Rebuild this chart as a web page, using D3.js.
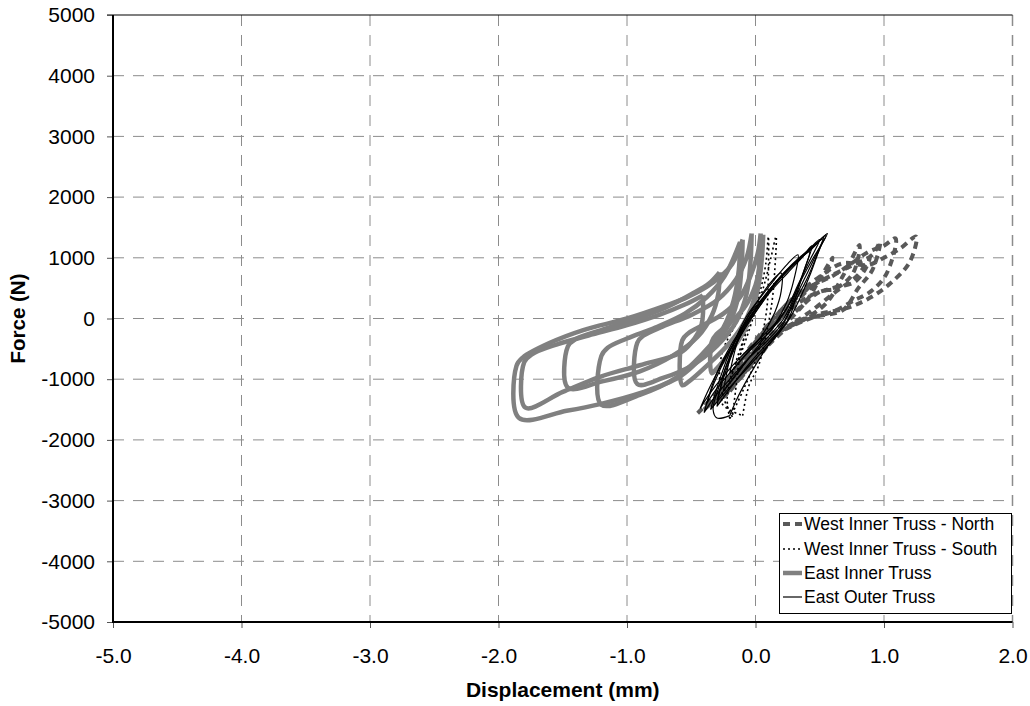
<!DOCTYPE html>
<html>
<head>
<meta charset="utf-8">
<script src="https://cdn.jsdelivr.net/npm/d3@7"></script>
<style>
  html, body { margin: 0; padding: 0; background: #fff; }
  svg { display: block; }
  text { font-family: Arial, "Liberation Sans", sans-serif; }
</style>
</head>
<body>
<svg id="chart" width="1030" height="706"></svg>
<script>
// ---------- data ----------
const xTicks = [-5.0, -4.0, -3.0, -2.0, -1.0, 0.0, 1.0, 2.0];
const yTicks = [-5000, -4000, -3000, -2000, -1000, 0, 1000, 2000, 3000, 4000, 5000];
const seriesNames = ["West Inner Truss - North", "West Inner Truss - South", "East Inner Truss", "East Outer Truss"];

// West Inner Truss - North (loops, [displacement mm, force N])
const westNorth = [
  [[-0.45,-1560],[-0.3,-1250],[-0.12,-800],[0.08,-380],[0.25,-50],[0.4,300],[0.5,650],[0.6,1000],[0.55,750],[0.45,550],[0.3,250],[0.15,-100],[-0.05,-550],[-0.25,-1100],[-0.45,-1560]],
  [[-0.4,-1500],[-0.2,-1100],[0.0,-600],[0.17,-240],[0.37,-25],[0.55,250],[0.68,700],[0.81,1210],[0.76,750],[0.63,500],[0.5,440],[0.33,150],[0.15,-200],[-0.05,-650],[-0.2,-1050],[-0.4,-1500]],
  [[-0.35,-1450],[-0.15,-1000],[0.09,-350],[0.27,-140],[0.45,20],[0.68,140],[0.8,500],[0.91,800],[0.97,1260],[0.91,1050],[0.79,910],[0.63,750],[0.45,550],[0.25,250],[0.05,-250],[-0.15,-800],[-0.35,-1450]],
  [[-0.3,-1400],[-0.05,-800],[0.17,-240],[0.37,-25],[0.6,110],[0.77,300],[0.9,450],[1.02,740],[1.09,1320],[1.0,1200],[0.88,1100],[0.73,880],[0.6,700],[0.45,550],[0.25,200],[0.05,-300],[-0.15,-850],[-0.3,-1400]],
  [[-0.25,-1300],[0.0,-700],[0.2,-200],[0.45,50],[0.71,170],[0.89,340],[1.05,580],[1.2,930],[1.25,1350],[1.13,1160],[1.0,1000],[0.87,880],[0.68,910],[0.5,690],[0.3,350],[0.1,-100],[-0.1,-650],[-0.25,-1300]],
  [[-0.2,-1200],[0.05,-550],[0.25,-150],[0.45,150],[0.63,450],[0.79,700],[0.89,1000],[0.85,800],[0.77,600],[0.6,500],[0.45,400],[0.3,200],[0.1,-200],[-0.2,-1200]]
];

// West Inner Truss - South
const westSouth = [
  [[-0.2,-1650],[-0.1,-1200],[0.0,-700],[0.05,-300],[0.09,200],[0.1,700],[0.1,1350],[0.08,900],[0.03,400],[-0.05,-100],[-0.15,-700],[-0.22,-1300],[-0.2,-1650]],
  [[-0.1,-1600],[-0.05,-1100],[0.02,-800],[0.08,-300],[0.13,300],[0.15,800],[0.16,1350],[0.12,1000],[0.06,500],[-0.02,0],[-0.1,-500],[-0.2,-1000],[-0.26,-1400],[-0.1,-1600]],
  [[-0.18,-1620],[-0.25,-1300],[-0.28,-900],[-0.25,-500],[-0.18,-200],[-0.1,100],[-0.02,400],[0.0,300],[-0.06,-100],[-0.12,-600],[-0.15,-1100],[-0.18,-1620]]
];

// East Inner Truss
const eastInner = [
  [[0.06,1380],[0.05,1000],[0.02,500],[-0.03,100],[-0.1,-250],[-0.2,-560],[-0.3,-820],[-0.34,-900],[-0.34,-380],[-0.3,-250],[-0.2,-80],[-0.08,200],[0.0,550],[0.04,950],[0.06,1380]],
  [[0.04,1400],[0.03,900],[0.0,400],[-0.07,0],[-0.2,-400],[-0.38,-780],[-0.52,-1040],[-0.57,-1100],[-0.57,-360],[-0.52,-240],[-0.4,-100],[-0.25,80],[-0.12,350],[-0.03,750],[0.02,1100],[0.04,1400]],
  [[-0.03,1400],[-0.04,900],[-0.07,400],[-0.15,-50],[-0.3,-450],[-0.5,-780],[-0.72,-980],[-0.92,-1080],[-0.92,-400],[-0.87,-280],[-0.72,-130],[-0.5,60],[-0.3,300],[-0.15,650],[-0.07,1000],[-0.03,1400]],
  [[-0.12,1260],[-0.13,800],[-0.17,300],[-0.25,-150],[-0.42,-600],[-0.62,-980],[-0.9,-1260],[-1.2,-1420],[-1.2,-620],[-1.15,-480],[-1.0,-330],[-0.78,-150],[-0.55,80],[-0.38,350],[-0.24,700],[-0.12,1260]],
  [[-0.28,760],[-0.29,400],[-0.34,50],[-0.45,-300],[-0.65,-620],[-0.9,-870],[-1.2,-1040],[-1.46,-1140],[-1.46,-460],[-1.4,-340],[-1.2,-190],[-0.95,-20],[-0.7,180],[-0.5,400],[-0.36,580],[-0.28,760]],
  [[-0.1,1300],[-0.11,800],[-0.14,300],[-0.22,-150],[-0.4,-600],[-0.59,-960],[-0.9,-1230],[-1.21,-1410],[-1.47,-1520],[-1.84,-1640],[-1.86,-780],[-1.81,-640],[-1.6,-400],[-1.34,-190],[-1.0,0],[-0.69,220],[-0.53,350],[-0.38,520],[-0.28,680],[-0.18,900],[-0.1,1300]],
  [[-0.41,380],[-0.42,-100],[-0.5,-400],[-0.59,-570],[-0.9,-770],[-1.21,-960],[-1.5,-1210],[-1.79,-1470],[-1.8,-720],[-1.74,-590],[-1.55,-430],[-1.3,-280],[-1.0,-110],[-0.75,60],[-0.55,230],[-0.41,380]]
];

// East Outer Truss
const eastOuter = [
  [[-0.43,-1480],[-0.36,-1250],[-0.25,-950],[-0.1,-600],[0.05,-300],[0.18,-20],[0.28,300],[0.36,650],[0.45,1000],[0.56,1400],[0.48,1250],[0.38,1050],[0.25,800],[0.12,500],[0.0,150],[-0.12,-250],[-0.25,-700],[-0.36,-1150],[-0.43,-1480]],
  [[-0.2,-1600],[-0.15,-1350],[-0.05,-950],[0.08,-500],[0.2,-150],[0.3,250],[0.4,650],[0.47,1000],[0.53,1340],[0.44,1150],[0.32,950],[0.2,700],[0.08,350],[-0.05,-50],[-0.18,-550],[-0.28,-1100],[-0.33,-1500],[-0.3,-1640],[-0.2,-1600]],
  [[-0.38,-1400],[-0.3,-1150],[-0.18,-850],[-0.03,-500],[0.12,-200],[0.24,150],[0.33,550],[0.42,950],[0.5,1300],[0.42,1150],[0.3,900],[0.16,600],[0.03,250],[-0.1,-150],[-0.22,-600],[-0.32,-1050],[-0.38,-1400]],
  [[-0.3,-1350],[-0.2,-1050],[-0.05,-650],[0.1,-300],[0.22,0],[0.3,350],[0.37,750],[0.44,1200],[0.36,1000],[0.25,750],[0.12,450],[0.0,100],[-0.12,-300],[-0.22,-800],[-0.3,-1350]],
  [[-0.25,-1200],[-0.12,-850],[0.02,-450],[0.15,-100],[0.24,250],[0.3,650],[0.33,1050],[0.25,900],[0.15,650],[0.04,350],[-0.08,0],[-0.18,-500],[-0.25,-1200]],
  [[-0.4,-1550],[-0.32,-1300],[-0.2,-1000],[-0.05,-650],[0.1,-350],[0.22,-50],[0.3,300],[0.38,650],[0.46,1000],[0.52,1300],[0.4,1100],[0.28,850],[0.15,550],[0.02,200],[-0.12,-200],[-0.22,-550],[-0.32,-1000],[-0.4,-1550]],
  [[-0.2,-900],[-0.08,-600],[0.06,-250],[0.15,100],[0.2,450],[0.2,750],[0.12,600],[0.02,300],[-0.08,-50],[-0.15,-450],[-0.2,-900]],
  [[-0.35,-1500],[-0.25,-1250],[-0.1,-900],[0.05,-550],[0.18,-250],[0.27,50],[0.32,400],[0.38,800],[0.42,1100],[0.33,950],[0.2,700],[0.08,400],[-0.05,50],[-0.17,-400],[-0.27,-950],[-0.35,-1500]],
  [[-0.3,-1450],[-0.18,-1100],[-0.03,-700],[0.12,-350],[0.25,-50],[0.35,350],[0.43,750],[0.5,1150],[0.55,1380],[0.46,1200],[0.34,1000],[0.22,750],[0.1,450],[-0.02,80],[-0.14,-350],[-0.24,-850],[-0.3,-1450]]
];

// ---------- layout ----------
const svg = d3.select("#chart");
const L = 113, R = 1012.5, T = 15, B = 622;
const x = d3.scaleLinear().domain([-5, 2]).range([L, R]);
const y = d3.scaleLinear().domain([-5000, 5000]).range([B, T]);

const gridColor = "#8c8c8c";
// gridlines
svg.append("g").selectAll("line").data(yTicks.filter(v => v !== -5000 && v !== 5000)).join("line")
  .attr("x1", L).attr("x2", R).attr("y1", d => y(d)).attr("y2", d => y(d))
  .attr("stroke", gridColor).attr("stroke-width", 1).attr("stroke-dasharray", "11,9");
svg.append("g").selectAll("line").data(xTicks.filter(v => v !== -5)).join("line")
  .attr("x1", d => x(d)).attr("x2", d => x(d)).attr("y1", T).attr("y2", B)
  .attr("stroke", gridColor).attr("stroke-width", d => d === 2 ? 1.5 : 1).attr("stroke-dasharray", "11,9");

// top border
svg.append("line").attr("x1", L - 6).attr("x2", R).attr("y1", y(5000)).attr("y2", y(5000))
  .attr("stroke", "#000").attr("stroke-width", 1.2);

// axes
const yAxis = d3.axisLeft(y).tickValues(yTicks).tickFormat(d => String(d)).tickSize(6).tickPadding(12);
const xAxis = d3.axisBottom(x).tickValues(xTicks).tickFormat(d => d.toFixed(1)).tickSize(6).tickPadding(20);

const gy = svg.append("g").attr("transform", `translate(${L},0)`).call(yAxis);
const gx = svg.append("g").attr("transform", `translate(0,${B})`).call(xAxis);
[gy, gx].forEach(g => {
  g.select(".domain").remove();
  g.selectAll(".tick line").attr("stroke", "#555");
  g.selectAll(".tick text").attr("font-size", "21px").attr("fill", "#000")
    .attr("font-family", "Arial, 'Liberation Sans', sans-serif");
});

// series
const line = d3.line().x(d => x(d[0])).y(d => y(d[1])).curve(d3.curveCatmullRom.alpha(0.5));
const plot = svg.append("g");

const styles = [
  {data: westNorth, stroke: "#595959", width: 4, dash: "7,5"},
  {data: westSouth, stroke: "#000", width: 1.6, dash: "2,3"},
  {data: eastInner, stroke: "#808080", width: 4.5, dash: null},
  {data: eastOuter, stroke: "#000", width: 1.2, dash: null}
];
styles.forEach(s => {
  plot.append("g").selectAll("path").data(s.data).join("path")
    .attr("d", line).attr("fill", "none")
    .attr("stroke", s.stroke).attr("stroke-width", s.width)
    .attr("stroke-dasharray", s.dash)
    .attr("stroke-linejoin", "round");
});

// axis lines
svg.append("line").attr("x1", L).attr("x2", L).attr("y1", T).attr("y2", B + 1)
  .attr("stroke", "#000").attr("stroke-width", 2);
svg.append("line").attr("x1", L - 1).attr("x2", R).attr("y1", B).attr("y2", B)
  .attr("stroke", "#000").attr("stroke-width", 2);

// axis titles
svg.append("text").attr("x", (L + R) / 2).attr("y", 697)
  .attr("text-anchor", "middle").attr("font-weight", "bold").attr("font-size", "21px")
  .text("Displacement (mm)");
svg.append("text").attr("transform", `translate(25,${(T + B) / 2}) rotate(-90)`)
  .attr("text-anchor", "middle").attr("font-weight", "bold").attr("font-size", "20.5px")
  .text("Force (N)");

// legend
const lg = svg.append("g");
lg.append("rect").attr("x", 779.5).attr("y", 513.5).attr("width", 232).attr("height", 100)
  .attr("fill", "#fff").attr("stroke", "#000").attr("stroke-width", 1);
const legendY = [524, 549, 573, 597];
styles.forEach((s, i) => {
  lg.append("line").attr("x1", 783).attr("x2", 802).attr("y1", legendY[i]).attr("y2", legendY[i])
    .attr("stroke", s.stroke).attr("stroke-width", s.width).attr("stroke-dasharray", s.dash);
  lg.append("text").attr("x", 804).attr("y", legendY[i]).attr("dy", "0.35em")
    .attr("font-size", "17.5px").attr("fill", "#000").text(seriesNames[i]);
});
</script>
</body>
</html>
